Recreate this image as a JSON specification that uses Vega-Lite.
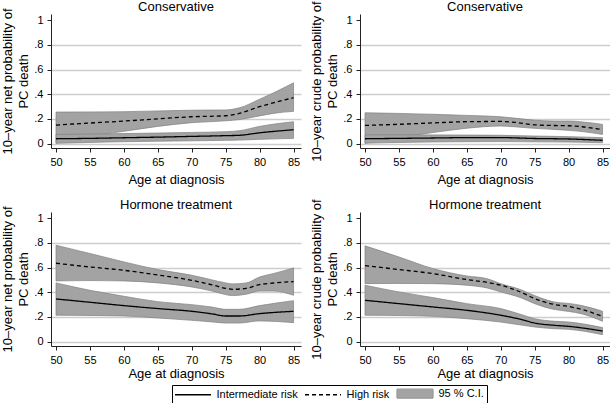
{
  "$schema": "https://vega.github.io/schema/vega-lite/v6.json",
  "padding": {"left": 1, "top": 0, "right": 0, "bottom": 0},
  "background": "white",
  "config": {
    "font": "Liberation Sans",
    "view": {"stroke": null},
    "title": {"fontSize": 13, "fontWeight": "normal", "color": "#000", "baseline": "alphabetic", "font": "Liberation Sans", "frame": "group"},
    "axis": {"domainColor": "#222", "tickColor": "#222", "labelColor": "#000", "titleColor": "#000", "labelFontSize": 11, "titleFontSize": 13, "titleFontWeight": "normal", "tickSize": 4, "domainWidth": 1, "tickWidth": 1, "labelFont": "Liberation Sans", "titleFont": "Liberation Sans"},
    "axisX": {"grid": false, "values": [50, 55, 60, 65, 70, 75, 80, 85], "labelPadding": 4},
    "axisY": {"grid": true, "gridColor": "#cdcdcd", "gridWidth": 1.5, "values": [0, 0.2, 0.4, 0.6, 0.8, 1], "labelExpr": "datum.value == 0 ? '0' : datum.value == 1 ? '1' : '.' + round(datum.value * 10)", "labelPadding": 4, "titlePadding": 3, "titleLineHeight": 16, "gridOpacity": {"condition": {"test": "datum.value == 1", "value": 0}, "value": 1}},
    "legend": {"labelFontSize": 11, "labelFont": "Liberation Sans", "labelColor": "#000"}
  },
  "data": {"values": [
    {"p":"A","s":"High risk","age":50,"est":0.151,"lo":0.005,"hi":0.256},
    {"p":"A","s":"High risk","age":55,"est":0.167,"lo":0.06,"hi":0.257},
    {"p":"A","s":"High risk","age":60,"est":0.183,"lo":0.10,"hi":0.259},
    {"p":"A","s":"High risk","age":65,"est":0.201,"lo":0.14,"hi":0.265},
    {"p":"A","s":"High risk","age":70,"est":0.218,"lo":0.17,"hi":0.271},
    {"p":"A","s":"High risk","age":75,"est":0.226,"lo":0.185,"hi":0.273},
    {"p":"A","s":"High risk","age":77,"est":0.245,"lo":0.195,"hi":0.29},
    {"p":"A","s":"High risk","age":80,"est":0.30,"lo":0.225,"hi":0.36},
    {"p":"A","s":"High risk","age":82,"est":0.33,"lo":0.245,"hi":0.41},
    {"p":"A","s":"High risk","age":85,"est":0.372,"lo":0.262,"hi":0.493},
    {"p":"A","s":"Intermediate risk","age":50,"est":0.040,"lo":0.003,"hi":0.075},
    {"p":"A","s":"Intermediate risk","age":55,"est":0.043,"lo":0.010,"hi":0.078},
    {"p":"A","s":"Intermediate risk","age":60,"est":0.048,"lo":0.016,"hi":0.082},
    {"p":"A","s":"Intermediate risk","age":65,"est":0.053,"lo":0.020,"hi":0.086},
    {"p":"A","s":"Intermediate risk","age":70,"est":0.059,"lo":0.023,"hi":0.091},
    {"p":"A","s":"Intermediate risk","age":75,"est":0.065,"lo":0.027,"hi":0.097},
    {"p":"A","s":"Intermediate risk","age":77,"est":0.068,"lo":0.029,"hi":0.105},
    {"p":"A","s":"Intermediate risk","age":80,"est":0.088,"lo":0.035,"hi":0.14},
    {"p":"A","s":"Intermediate risk","age":85,"est":0.113,"lo":0.043,"hi":0.178},
    {"p":"B","s":"High risk","age":50,"est":0.148,"lo":0.003,"hi":0.25},
    {"p":"B","s":"High risk","age":55,"est":0.157,"lo":0.05,"hi":0.245},
    {"p":"B","s":"High risk","age":60,"est":0.168,"lo":0.09,"hi":0.238},
    {"p":"B","s":"High risk","age":65,"est":0.178,"lo":0.125,"hi":0.229},
    {"p":"B","s":"High risk","age":70,"est":0.180,"lo":0.143,"hi":0.218},
    {"p":"B","s":"High risk","age":72,"est":0.173,"lo":0.137,"hi":0.207},
    {"p":"B","s":"High risk","age":75,"est":0.153,"lo":0.124,"hi":0.19},
    {"p":"B","s":"High risk","age":78,"est":0.147,"lo":0.115,"hi":0.183},
    {"p":"B","s":"High risk","age":80,"est":0.145,"lo":0.108,"hi":0.183},
    {"p":"B","s":"High risk","age":82,"est":0.137,"lo":0.098,"hi":0.176},
    {"p":"B","s":"High risk","age":85,"est":0.113,"lo":0.075,"hi":0.156},
    {"p":"B","s":"Intermediate risk","age":50,"est":0.040,"lo":0.004,"hi":0.072},
    {"p":"B","s":"Intermediate risk","age":55,"est":0.043,"lo":0.010,"hi":0.072},
    {"p":"B","s":"Intermediate risk","age":60,"est":0.046,"lo":0.014,"hi":0.071},
    {"p":"B","s":"Intermediate risk","age":65,"est":0.049,"lo":0.016,"hi":0.070},
    {"p":"B","s":"Intermediate risk","age":70,"est":0.049,"lo":0.017,"hi":0.068},
    {"p":"B","s":"Intermediate risk","age":75,"est":0.042,"lo":0.015,"hi":0.062},
    {"p":"B","s":"Intermediate risk","age":80,"est":0.038,"lo":0.013,"hi":0.057},
    {"p":"B","s":"Intermediate risk","age":85,"est":0.027,"lo":0.008,"hi":0.049},
    {"p":"C","s":"High risk","age":50,"est":0.635,"lo":0.492,"hi":0.781},
    {"p":"C","s":"High risk","age":55,"est":0.605,"lo":0.495,"hi":0.714},
    {"p":"C","s":"High risk","age":60,"est":0.578,"lo":0.492,"hi":0.646},
    {"p":"C","s":"High risk","age":65,"est":0.540,"lo":0.476,"hi":0.584},
    {"p":"C","s":"High risk","age":70,"est":0.497,"lo":0.443,"hi":0.538},
    {"p":"C","s":"High risk","age":73,"est":0.46,"lo":0.41,"hi":0.50},
    {"p":"C","s":"High risk","age":75,"est":0.432,"lo":0.381,"hi":0.476},
    {"p":"C","s":"High risk","age":76,"est":0.424,"lo":0.373,"hi":0.468},
    {"p":"C","s":"High risk","age":78,"est":0.432,"lo":0.384,"hi":0.475},
    {"p":"C","s":"High risk","age":80,"est":0.462,"lo":0.41,"hi":0.524},
    {"p":"C","s":"High risk","age":82,"est":0.475,"lo":0.41,"hi":0.551},
    {"p":"C","s":"High risk","age":85,"est":0.486,"lo":0.376,"hi":0.597},
    {"p":"C","s":"Intermediate risk","age":50,"est":0.346,"lo":0.214,"hi":0.476},
    {"p":"C","s":"Intermediate risk","age":55,"est":0.319,"lo":0.212,"hi":0.416},
    {"p":"C","s":"Intermediate risk","age":60,"est":0.292,"lo":0.208,"hi":0.368},
    {"p":"C","s":"Intermediate risk","age":65,"est":0.268,"lo":0.192,"hi":0.324},
    {"p":"C","s":"Intermediate risk","age":70,"est":0.246,"lo":0.173,"hi":0.300},
    {"p":"C","s":"Intermediate risk","age":73,"est":0.225,"lo":0.16,"hi":0.28},
    {"p":"C","s":"Intermediate risk","age":75,"est":0.208,"lo":0.151,"hi":0.262},
    {"p":"C","s":"Intermediate risk","age":77,"est":0.208,"lo":0.151,"hi":0.262},
    {"p":"C","s":"Intermediate risk","age":80,"est":0.227,"lo":0.168,"hi":0.292},
    {"p":"C","s":"Intermediate risk","age":85,"est":0.246,"lo":0.154,"hi":0.332},
    {"p":"D","s":"High risk","age":50,"est":0.616,"lo":0.470,"hi":0.776},
    {"p":"D","s":"High risk","age":55,"est":0.584,"lo":0.472,"hi":0.686},
    {"p":"D","s":"High risk","age":60,"est":0.551,"lo":0.470,"hi":0.592},
    {"p":"D","s":"High risk","age":65,"est":0.503,"lo":0.457,"hi":0.532},
    {"p":"D","s":"High risk","age":68,"est":0.48,"lo":0.435,"hi":0.51},
    {"p":"D","s":"High risk","age":70,"est":0.457,"lo":0.403,"hi":0.47},
    {"p":"D","s":"High risk","age":73,"est":0.40,"lo":0.355,"hi":0.42},
    {"p":"D","s":"High risk","age":75,"est":0.349,"lo":0.308,"hi":0.373},
    {"p":"D","s":"High risk","age":78,"est":0.30,"lo":0.26,"hi":0.32},
    {"p":"D","s":"High risk","age":80,"est":0.285,"lo":0.245,"hi":0.31},
    {"p":"D","s":"High risk","age":82,"est":0.26,"lo":0.225,"hi":0.292},
    {"p":"D","s":"High risk","age":85,"est":0.205,"lo":0.165,"hi":0.246},
    {"p":"D","s":"Intermediate risk","age":50,"est":0.335,"lo":0.214,"hi":0.457},
    {"p":"D","s":"Intermediate risk","age":55,"est":0.308,"lo":0.212,"hi":0.403},
    {"p":"D","s":"Intermediate risk","age":60,"est":0.281,"lo":0.205,"hi":0.357},
    {"p":"D","s":"Intermediate risk","age":65,"est":0.254,"lo":0.186,"hi":0.308},
    {"p":"D","s":"Intermediate risk","age":70,"est":0.214,"lo":0.159,"hi":0.268},
    {"p":"D","s":"Intermediate risk","age":73,"est":0.18,"lo":0.135,"hi":0.22},
    {"p":"D","s":"Intermediate risk","age":75,"est":0.151,"lo":0.119,"hi":0.186},
    {"p":"D","s":"Intermediate risk","age":78,"est":0.132,"lo":0.105,"hi":0.165},
    {"p":"D","s":"Intermediate risk","age":80,"est":0.124,"lo":0.10,"hi":0.159},
    {"p":"D","s":"Intermediate risk","age":85,"est":0.086,"lo":0.057,"hi":0.114}
  ]},
  "columns": 2,
  "bounds": "flush",
  "spacing": {"row": 64, "column": 59},
  "concat": [
    {
      "width": 250, "height": 134,
      "title": {"text": "Conservative", "offset": -6},
      "transform": [{"filter": "datum.p == 'A'"}],
      "encoding": {"x": {"field": "age", "type": "quantitative", "scale": {"domain": [49.26, 86.1], "nice": false, "zero": false}, "axis": {"title": "Age at diagnosis", "titlePadding": 6}}},
      "layer": [
        {"transform": [{"filter": "datum.s == 'High risk'"}], "mark": {"type": "area", "fill": "#a3a3a3", "stroke": "#808080", "strokeWidth": 0.7, "interpolate": "monotone"},
         "encoding": {"y": {"field": "lo", "type": "quantitative", "scale": {"domain": [-0.035, 1.05], "nice": false, "zero": false}, "axis": {"title": ["10–year net probability of", "PC death"]}}, "y2": {"field": "hi"}}},
        {"transform": [{"filter": "datum.s == 'Intermediate risk'"}], "mark": {"type": "area", "fill": "#a3a3a3", "stroke": "#808080", "strokeWidth": 0.7, "interpolate": "monotone"},
         "encoding": {"y": {"field": "lo", "type": "quantitative"}, "y2": {"field": "hi"}}},
        {"mark": {"type": "line", "color": "black", "strokeWidth": 1.3, "interpolate": "monotone"},
         "encoding": {"y": {"field": "est", "type": "quantitative"}, "detail": {"field": "s"},
           "strokeDash": {"field": "s", "type": "nominal", "scale": {"domain": ["Intermediate risk", "High risk", "95 % C.I."], "range": [[1, 0], [4, 3], [1, 0]]},
             "legend": {"title": null, "orient": "none", "legendX": 121, "legendY": 371, "direction": "horizontal", "symbolSize": 81, "symbolStrokeWidth": 1.3, "symbolStrokeColor": "black", "symbolOffset": 12.5, "strokeColor": "#000", "padding": 3, "labelOffset": 18, "columnPadding": 4,
               "encode": {"symbols": {"update": {
                 "shape": {"signal": "datum.value === '95 % C.I.' ? 'M-4,-1H4V1H-4Z' : 'M-4,0H4'"},
                 "fill": {"signal": "datum.value === '95 % C.I.' ? '#a3a3a3' : 'transparent'"},
                 "stroke": {"signal": "datum.value === '95 % C.I.' ? '#9a9a9a' : 'black'"}
               }}}}}}}
      ]
    },
    {
      "width": 250, "height": 134,
      "title": {"text": "Conservative", "offset": -13},
      "transform": [{"filter": "datum.p == 'B'"}],
      "encoding": {"x": {"field": "age", "type": "quantitative", "scale": {"domain": [49.26, 86.1], "nice": false, "zero": false}, "axis": {"title": "Age at diagnosis", "titlePadding": 6}}},
      "layer": [
        {"transform": [{"filter": "datum.s == 'High risk'"}], "mark": {"type": "area", "fill": "#a3a3a3", "stroke": "#808080", "strokeWidth": 0.7, "interpolate": "monotone"},
         "encoding": {"y": {"field": "lo", "type": "quantitative", "scale": {"domain": [-0.035, 1.05], "nice": false, "zero": false}, "axis": {"title": ["10–year crude probability of", "PC death"]}}, "y2": {"field": "hi"}}},
        {"transform": [{"filter": "datum.s == 'Intermediate risk'"}], "mark": {"type": "area", "fill": "#a3a3a3", "stroke": "#808080", "strokeWidth": 0.7, "interpolate": "monotone"},
         "encoding": {"y": {"field": "lo", "type": "quantitative"}, "y2": {"field": "hi"}}},
        {"mark": {"type": "line", "color": "black", "strokeWidth": 1.3, "interpolate": "monotone"},
         "encoding": {"y": {"field": "est", "type": "quantitative"}, "detail": {"field": "s"}, "strokeDash": {"field": "s", "type": "nominal"}}}
      ]
    },
    {
      "width": 250, "height": 134,
      "title": {"text": "Hormone treatment", "offset": -6},
      "transform": [{"filter": "datum.p == 'C'"}],
      "encoding": {"x": {"field": "age", "type": "quantitative", "scale": {"domain": [49.26, 86.1], "nice": false, "zero": false}, "axis": {"title": "Age at diagnosis", "titlePadding": 2}}},
      "layer": [
        {"transform": [{"filter": "datum.s == 'High risk'"}], "mark": {"type": "area", "fill": "#a3a3a3", "stroke": "#808080", "strokeWidth": 0.7, "interpolate": "monotone"},
         "encoding": {"y": {"field": "lo", "type": "quantitative", "scale": {"domain": [-0.035, 1.05], "nice": false, "zero": false}, "axis": {"title": ["10–year net probability of", "PC death"]}}, "y2": {"field": "hi"}}},
        {"transform": [{"filter": "datum.s == 'Intermediate risk'"}], "mark": {"type": "area", "fill": "#a3a3a3", "stroke": "#808080", "strokeWidth": 0.7, "interpolate": "monotone"},
         "encoding": {"y": {"field": "lo", "type": "quantitative"}, "y2": {"field": "hi"}}},
        {"mark": {"type": "line", "color": "black", "strokeWidth": 1.3, "interpolate": "monotone"},
         "encoding": {"y": {"field": "est", "type": "quantitative"}, "detail": {"field": "s"}, "strokeDash": {"field": "s", "type": "nominal"}}}
      ]
    },
    {
      "width": 250, "height": 134,
      "title": {"text": "Hormone treatment", "offset": -13},
      "transform": [{"filter": "datum.p == 'D'"}],
      "encoding": {"x": {"field": "age", "type": "quantitative", "scale": {"domain": [49.26, 86.1], "nice": false, "zero": false}, "axis": {"title": "Age at diagnosis", "titlePadding": 2}}},
      "layer": [
        {"transform": [{"filter": "datum.s == 'High risk'"}], "mark": {"type": "area", "fill": "#a3a3a3", "stroke": "#808080", "strokeWidth": 0.7, "interpolate": "monotone"},
         "encoding": {"y": {"field": "lo", "type": "quantitative", "scale": {"domain": [-0.035, 1.05], "nice": false, "zero": false}, "axis": {"title": ["10–year crude probability of", "PC death"]}}, "y2": {"field": "hi"}}},
        {"transform": [{"filter": "datum.s == 'Intermediate risk'"}], "mark": {"type": "area", "fill": "#a3a3a3", "stroke": "#808080", "strokeWidth": 0.7, "interpolate": "monotone"},
         "encoding": {"y": {"field": "lo", "type": "quantitative"}, "y2": {"field": "hi"}}},
        {"mark": {"type": "line", "color": "black", "strokeWidth": 1.3, "interpolate": "monotone"},
         "encoding": {"y": {"field": "est", "type": "quantitative"}, "detail": {"field": "s"}, "strokeDash": {"field": "s", "type": "nominal"}}}
      ]
    }
  ]
}
